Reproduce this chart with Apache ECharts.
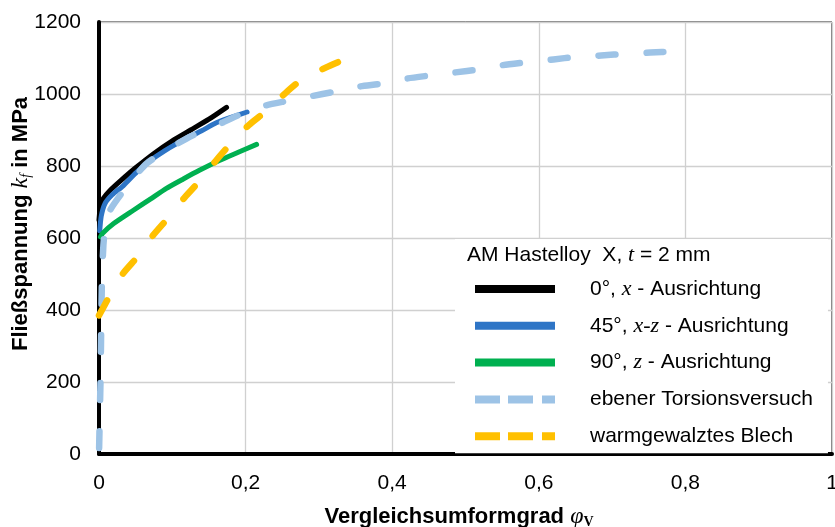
<!DOCTYPE html>
<html><head><meta charset="utf-8">
<script src="https://cdn.jsdelivr.net/npm/echarts@6/dist/echarts.min.js"></script>
<style>html,body{margin:0;padding:0;background:#fff}#c{width:835px;height:527px}</style>
</head><body><div id="c"></div>
<script>
// ---- data ----
const seriesNames = ['0°, x - Ausrichtung', '45°, x-z - Ausrichtung', '90°, z - Ausrichtung', 'ebener Torsionsversuch', 'warmgewalztes Blech'];
const seriesColors = ['#000000', '#2E75C6', '#00B050', '#9DC3E6', '#FFC000'];

const phi0 = [0, 0.002, 0.006, 0.015, 0.03, 0.05, 0.075, 0.1, 0.125, 0.15, 0.174];
const kf0  = [650, 690, 710, 732, 760, 795, 835, 870, 900, 930, 963];

const phi45 = [0.001, 0.003, 0.008, 0.018, 0.033, 0.05, 0.07, 0.09, 0.115, 0.14, 0.16, 0.18, 0.202];
const kf45  = [620, 660, 695, 720, 745, 780, 815, 843, 872, 898, 920, 935, 950];

const phi90 = [0.002, 0.005, 0.02, 0.047, 0.07, 0.092, 0.115, 0.137, 0.165, 0.19, 0.215];
const kf90  = [603, 613, 640, 677, 708, 738, 764, 788, 816, 838, 860];

const phiT = [0, 0.002, 0.003, 0.004, 0.006, 0.009, 0.015, 0.031, 0.065, 0.12, 0.169, 0.2, 0.225, 0.25, 0.29, 0.32, 0.356, 0.387, 0.42, 0.45, 0.486, 0.518, 0.55, 0.583, 0.62, 0.65, 0.685, 0.72, 0.752, 0.785];
const kfT  = [0, 200, 350, 480, 580, 640, 677, 724, 807, 877, 921, 950, 967, 978, 994, 1006, 1021, 1029, 1043, 1051, 1060, 1068, 1080, 1088, 1096, 1103, 1107, 1112, 1115, 1118];

const phiW = [0, 0.015, 0.033, 0.053, 0.074, 0.094, 0.117, 0.138, 0.16, 0.18, 0.204, 0.229, 0.253, 0.274, 0.31, 0.337];
const kfW  = [385, 441, 502, 549, 608, 655, 713, 760, 816, 863, 913, 954, 1000, 1036, 1074, 1098];

const xTicks = [0, 0.2, 0.4, 0.6, 0.8, 1];
const yTicks = [0, 200, 400, 600, 800, 1000, 1200];

const legendRichText = [
  '{a|0°, }{i|x}{a| - Ausrichtung}',
  '{a|45°, }{i|x-z}{a| - Ausrichtung}',
  '{a|90°, }{i|z}{a| - Ausrichtung}',
  '{a|ebener Torsionsversuch}',
  '{a|warmgewalztes Blech}'
];

// ---- chart ----
const SANS = 'Liberation Sans, Arial, sans-serif';
const SERIF = 'Liberation Serif, Times New Roman, serif';
const zip = (a, b) => a.map((v, i) => [v, b[i]]);
const allPhi = [phi0, phi45, phi90, phiT, phiW];
const allKf = [kf0, kf45, kf90, kfT, kfW];
const dashed = [false, false, false, true, true];
const dashOffsets = [0, 0, 0, 42, 0];
const dashIcon = 'path://M0,0H25V8H0Z M33,0H58V8H33Z M67,0H80V8H67Z';

const chart = echarts.init(document.getElementById('c'), null, {renderer: 'canvas'});
const fmtX = v => String(+(+v).toFixed(1)).replace('.', ',');

const option = {
  animation: false,
  backgroundColor: '#fff',
  grid: {left: 99, right: 3, top: 22, bottom: 73, containLabel: false, outerBoundsMode: 'none',
         show: true, borderColor: '#000', borderWidth: 1, backgroundColor: 'transparent'},
  title: {
    left: 467, top: 243, padding: 0,
    text: '{a|AM Hastelloy  X, }{i|t}{a| = 2 mm}',
    textStyle: {
      fontWeight: 'normal', fontFamily: SANS, fontSize: 21, color: '#000',
      rich: {
        a: {fontFamily: SANS, fontWeight: 'normal', fontSize: 21, color: '#000', lineHeight: 24},
        i: {fontFamily: SERIF, fontWeight: 'normal', fontStyle: 'italic', fontSize: 22, color: '#000', lineHeight: 24}
      }
    }
  },
  legend: {
    orient: 'vertical', left: 455, top: 239,
    padding: [38, 15, 5, 20],
    backgroundColor: '#fff',
    itemWidth: 80, itemHeight: 8, itemGap: 12.8,
    selectedMode: false,
    data: seriesNames.map((n, i) => ({name: n, icon: dashed[i] ? dashIcon : 'rect'})),
    formatter: name => legendRichText[seriesNames.indexOf(name)],
    textStyle: {
      fontFamily: SANS, fontSize: 21, color: '#000', lineHeight: 24,
      padding: [0, 0, 0, 30],
      rich: {
        a: {fontFamily: SANS, fontSize: 21, color: '#000', lineHeight: 24},
        i: {fontFamily: SERIF, fontStyle: 'italic', fontSize: 22, color: '#000', lineHeight: 24}
      }
    }
  },
  xAxis: {
    type: 'value', min: xTicks[0], max: xTicks[xTicks.length - 1], interval: 0.2,
    axisLine: {lineStyle: {color: '#000', width: 4}},
    axisTick: {show: false},
    splitLine: {lineStyle: {color: '#d0d0d0', width: 1.3}},
    axisLabel: {formatter: fmtX, fontFamily: SANS, fontSize: 21, color: '#000', margin: 19},
    name: '{b|Vergleichsumformgrad }{p|φ}{s|V}',
    nameLocation: 'middle', nameGap: 50, nameMoveOverlap: false,
    nameTextStyle: {
      padding: [0, 13, 0, 0],
      rich: {
        b: {fontFamily: SANS, fontWeight: 'bold', fontSize: 22, color: '#000', lineHeight: 26},
        p: {fontFamily: SERIF, fontStyle: 'italic', fontSize: 24, color: '#000', lineHeight: 26},
        s: {fontFamily: SERIF, fontWeight: 'bold', fontSize: 14, color: '#000', lineHeight: 26, padding: [10, 0, 0, 0]}
      }
    }
  },
  yAxis: {
    type: 'value', min: yTicks[0], max: yTicks[yTicks.length - 1], interval: 200,
    axisLine: {show: true, lineStyle: {color: '#000', width: 4}},
    axisTick: {show: false},
    splitLine: {lineStyle: {color: '#d0d0d0', width: 1.3}},
    axisLabel: {formatter: v => String(v), fontFamily: SANS, fontSize: 21, color: '#000', margin: 18},
    name: '{b|Fließspannung }{i|k}{s|f}{b| in MPa}',
    nameLocation: 'middle', nameGap: 65, nameRotate: 90, nameMoveOverlap: false,
    nameTextStyle: {
      padding: [0, 0, 0, 28],
      rich: {
        b: {fontFamily: SANS, fontWeight: 'bold', fontSize: 22, color: '#000', lineHeight: 26},
        i: {fontFamily: SERIF, fontStyle: 'italic', fontSize: 24, color: '#000', lineHeight: 26},
        s: {fontFamily: SERIF, fontStyle: 'italic', fontSize: 14, color: '#000', lineHeight: 26, padding: [10, 0, 0, 0]}
      }
    }
  },
  series: seriesNames.map((n, i) => ({
    name: n, type: 'line', showSymbol: false, symbol: 'none', smooth: 0.2,
    data: zip(allPhi[i], allKf[i]),
    color: seriesColors[i],
    lineStyle: dashed[i]
      ? {color: seriesColors[i], width: 6.5, type: [17, 31], dashOffset: dashOffsets[i], cap: 'round', join: 'round'}
      : {color: seriesColors[i], width: 5, cap: 'round', join: 'round'}
  }))
};
chart.setOption(option);
</script></body></html>
